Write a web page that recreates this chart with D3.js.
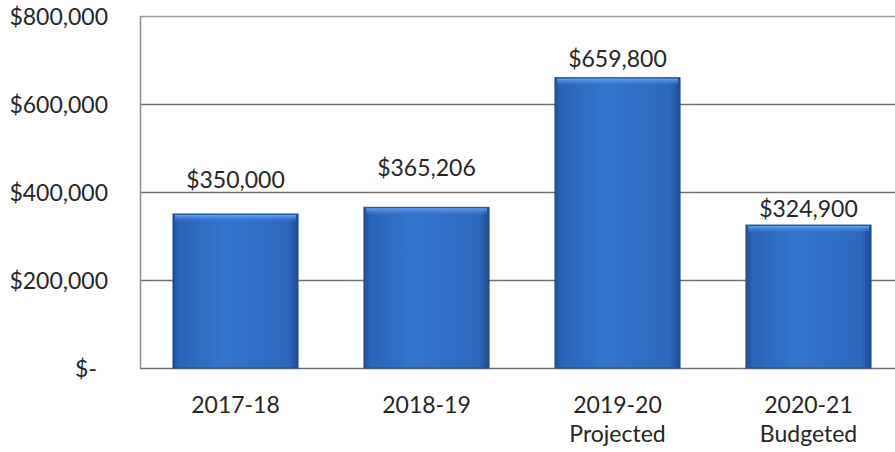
<!DOCTYPE html>
<html>
<head>
<meta charset="utf-8">
<script src="https://cdn.jsdelivr.net/npm/d3@7"></script>
<style>
  html, body { margin: 0; padding: 0; background: #fff; }
  svg { display: block; }
  text { font-family: Lato, "Open Sans", sans-serif; fill: #262626; }
</style>
</head>
<body>
<svg id="chart" width="895" height="452"></svg>
<script>
// Fiscal years and amounts
const years = ["2017-18", "2018-19", "2019-20", "2020-21"];
const yearNotes = ["", "", "Projected", "Budgeted"];
const amounts = [350000, 365206, 659800, 324900];
const yTicks = [0, 200000, 400000, 600000, 800000];

const svg = d3.select("#chart");
const margin = { left: 140, top: 16, right: -9, bottom: 84 };
const W = 895, H = 452;
const plotW = W - margin.left - margin.right;
const plotH = H - margin.top - margin.bottom;
const fontSize = 23;

// Gap between each value label's baseline and its bar top
const labelGap = [26, 31, 11, 8];

const x = d3.scaleBand().domain(years).range([0, plotW]).paddingInner(0.345).paddingOuter(0.1725);
const y = d3.scaleLinear().domain([0, 800000]).range([plotH, 0]);

const defs = svg.append("defs");
const grad = defs.append("linearGradient").attr("id", "barGrad").attr("x1", 0).attr("x2", 1).attr("y1", 0).attr("y2", 0);
grad.append("stop").attr("offset", "0%").attr("stop-color", "#1f4f98");
grad.append("stop").attr("offset", "5%").attr("stop-color", "#2b64b8");
grad.append("stop").attr("offset", "40%").attr("stop-color", "#3273cc");
grad.append("stop").attr("offset", "92%").attr("stop-color", "#2d68bd");
grad.append("stop").attr("offset", "100%").attr("stop-color", "#1d4a90");

const topGrad = defs.append("linearGradient").attr("id", "topGrad").attr("x1", 0).attr("x2", 0).attr("y1", 0).attr("y2", 1);
topGrad.append("stop").attr("offset", "0%").attr("stop-color", "#62a3ee");
topGrad.append("stop").attr("offset", "100%").attr("stop-color", "#3a7fd6").attr("stop-opacity", 0);

const g = svg.append("g").attr("transform", `translate(${margin.left},${margin.top})`);

// Gridlines
g.selectAll("line.grid").data(yTicks).join("line")
  .attr("class", "grid")
  .attr("x1", 0).attr("x2", plotW)
  .attr("y1", d => Math.round(y(d)) + 0.5).attr("y2", d => Math.round(y(d)) + 0.5)
  .attr("stroke", d => d === 800000 ? "#9a9a9a" : "#707070")
  .attr("stroke-width", 1.4);

// Plot area left border
g.append("line").attr("x1", 0.5).attr("x2", 0.5).attr("y1", 0).attr("y2", plotH)
  .attr("stroke", "#8a8a8a").attr("stroke-width", 1.4);

// Y axis labels
g.selectAll("text.ytick").data(yTicks).join("text")
  .attr("class", "ytick")
  .attr("x", d => d === 0 ? -43 : -32)
  .attr("y", d => y(d) + 9)
  .attr("text-anchor", "end")
  .attr("font-size", fontSize)
  .text(d => d === 0 ? "$-" : "$" + d3.format(",")(d));

// Bars
const bars = g.selectAll("g.bar").data(amounts).join("g").attr("class", "bar");
bars.append("rect")
  .attr("x", (d, i) => x(years[i]))
  .attr("y", d => y(d))
  .attr("width", x.bandwidth())
  .attr("height", d => plotH - y(d))
  .attr("fill", "url(#barGrad)")
  .attr("stroke", "#224f93").attr("stroke-width", 1);
bars.append("rect")
  .attr("x", (d, i) => x(years[i]) + 2)
  .attr("y", d => y(d) + 1)
  .attr("width", x.bandwidth() - 4)
  .attr("height", 7)
  .attr("fill", "url(#topGrad)");

// Value labels
g.selectAll("text.val").data(amounts).join("text")
  .attr("class", "val")
  .attr("x", (d, i) => x(years[i]) + x.bandwidth() / 2)
  .attr("y", (d, i) => y(d) - labelGap[i])
  .attr("text-anchor", "middle")
  .attr("font-size", fontSize)
  .text(d => "$" + d3.format(",")(d));

// Category labels
const cat = g.selectAll("text.cat").data(years).join("text")
  .attr("class", "cat")
  .attr("x", d => x(d) + x.bandwidth() / 2)
  .attr("y", plotH + 45)
  .attr("text-anchor", "middle")
  .attr("font-size", fontSize);
cat.append("tspan").text(d => d);
cat.append("tspan")
  .attr("x", d => x(d) + x.bandwidth() / 2)
  .attr("dy", 29)
  .text((d, i) => yearNotes[i]);
</script>
</body>
</html>
